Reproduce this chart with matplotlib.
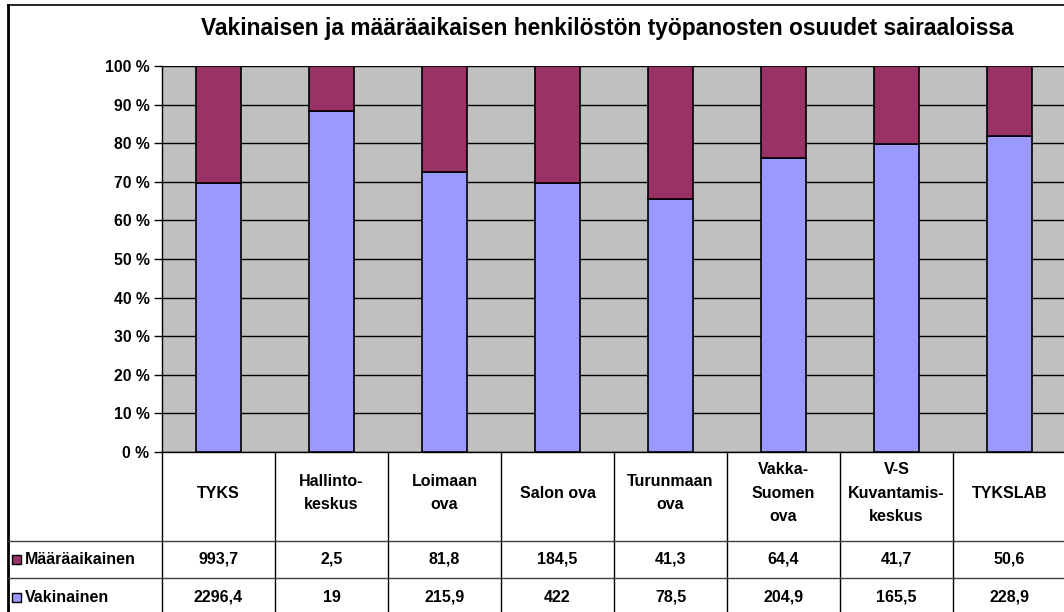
import matplotlib
matplotlib.use("Agg")
import matplotlib.pyplot as plt
import matplotlib.transforms as mtransforms
from matplotlib.patches import Rectangle
from matplotlib.lines import Line2D
import numpy as np

categories = ["TYKS", "Hallinto-\nkeskus", "Loimaan\nova", "Salon ova", "Turunmaan\nova",
              "Vakka-\nSuomen\nova", "V-S\nKuvantamis-\nkeskus", "TYKSLAB"]
maaraaikainen = [993.7, 2.5, 81.8, 184.5, 41.3, 64.4, 41.7, 50.6]
vakinainen = [2296.4, 19, 215.9, 422, 78.5, 204.9, 165.5, 228.9]
series_names = ["Määräaikainen", "Vakinainen"]
title = "Vakinaisen ja määräaikaisen henkilöstön työpanosten osuudet sairaaloissa"
yticks = list(range(0, 101, 10))

plt.rcParams['font.family'] = ['Liberation Sans', 'DejaVu Sans']
plt.rcParams['font.weight'] = 'bold'

W, H = 1064, 612
fig = plt.figure(figsize=(W / 100, H / 100), dpi=100)
fig.patch.set_facecolor('white')

c_vak = '#9999FF'
c_maa = '#993366'
fs_tick = 11.3
fs_tab = 11.5

left_px, right_px, top_px, bot_px = 162, 1066, 66, 452
ax = fig.add_axes([left_px / W, 1 - bot_px / H, (right_px - left_px) / W, (bot_px - top_px) / H])
ax.set_facecolor('#C0C0C0')

x = np.arange(len(categories))
vak = np.array(vakinainen, dtype=float)
maa = np.array(maaraaikainen, dtype=float)
tot = vak + maa
vak_pct = vak / tot * 100
maa_pct = maa / tot * 100

ax.set_axisbelow(True)
ax.yaxis.grid(True, color='black', linewidth=1.0)
ax.bar(x, vak_pct, width=0.4, color=c_vak, edgecolor='black', linewidth=1.2, zorder=3)
ax.bar(x, maa_pct, width=0.4, bottom=vak_pct, color=c_maa, edgecolor='black', linewidth=1.2, zorder=3)

ax.set_xlim(-0.5, len(categories) - 0.5)
ax.set_ylim(0, 100)
ax.set_yticks(yticks)
ax.set_yticklabels([f"{t} %" for t in yticks], fontsize=fs_tick, fontweight='bold')
ax.tick_params(axis='y', direction='out', length=6, width=1, color='black', pad=3)
ax.set_xticks([])
for s in ['top', 'right']:
    ax.spines[s].set_visible(False)
ax.spines['left'].set_color('black')
ax.spines['bottom'].set_color('black')
ax.spines['left'].set_linewidth(1.0)
ax.spines['bottom'].set_linewidth(1.0)

fig.text(607 / W, 1 - 28 / H, title, ha='center', va='center', fontsize=16.4, fontweight='bold')

fig.add_artist(Line2D([7.5 / W, 7.5 / W], [0, 1 - 5 / H], transform=fig.transFigure, color='black', lw=2))
fig.add_artist(Line2D([7.5 / W, 1], [1 - 5 / H, 1 - 5 / H], transform=fig.transFigure, color='black', lw=1.2))

blend = mtransforms.blended_transform_factory(ax.transData, fig.transFigure)
def fy(py):
    return 1 - py / H

row1_top, row2_top = 541, 578
for b in np.arange(-0.5, len(categories) + 0.5, 1.0):
    fig.add_artist(Line2D([b, b], [fy(bot_px), 0], transform=blend, color='black', lw=1.0))
for py in [row1_top, row2_top]:
    fig.add_artist(Line2D([8 / W, 1], [fy(py), fy(py)], transform=fig.transFigure, color='#404040', lw=1.0))

def fmt(v):
    return f"{v:g}".replace('.', ',')

y_r1 = (row1_top + row2_top) / 2
y_r2 = (row2_top + H) / 2 + 2
for i, cat in enumerate(categories):
    fig.text(i, fy(493), cat, transform=blend, ha='center', va='center',
             fontsize=fs_tab, fontweight='bold', linespacing=1.68)
    fig.text(i, fy(y_r1), fmt(maaraaikainen[i]), transform=blend,
             ha='center', va='center', fontsize=fs_tab, fontweight='bold')
    fig.text(i, fy(y_r2), fmt(vakinainen[i]), transform=blend,
             ha='center', va='center', fontsize=fs_tab, fontweight='bold')

for name, col, yc in [(series_names[0], c_maa, y_r1), (series_names[1], c_vak, y_r2)]:
    fig.add_artist(Rectangle((11.5 / W, fy(yc + 4.5)), 9 / W, 9 / H, transform=fig.transFigure,
                             facecolor=col, edgecolor='black', lw=1.0))
    fig.text(25 / W, fy(yc), name, ha='left', va='center', fontsize=fs_tab, fontweight='bold')

fig.savefig('out.png', dpi=100)
